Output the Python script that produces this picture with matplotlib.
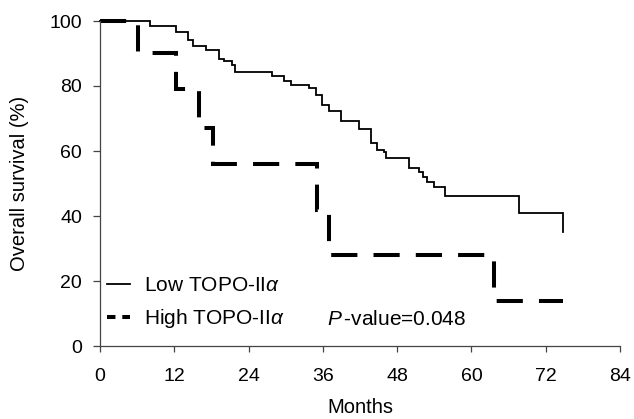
import matplotlib
matplotlib.use("Agg")
import matplotlib.pyplot as plt
from matplotlib.lines import Line2D

plt.rcParams['font.family'] = ['Liberation Sans', 'DejaVu Sans']
plt.rcParams['mathtext.fontset'] = 'custom'
plt.rcParams['mathtext.rm'] = 'Liberation Sans'
plt.rcParams['mathtext.it'] = 'Liberation Sans:italic'
plt.rcParams['mathtext.bf'] = 'Liberation Sans:bold'

# ---- data ----
months_low = [0, 8.1, 12.2, 14.2, 15.1, 17.1, 19.2, 20.1, 21.4, 21.8, 27.8, 29.8,
              30.8, 33.8, 34.9, 35.9, 37.0, 38.9, 41.9, 43.7, 44.8, 45.9, 46.2,
              49.9, 51.5, 52.1, 52.9, 54.0, 55.8, 67.7, 74.8]
surv_low = [100, 98.6, 96.5, 94.3, 92.2, 91.2, 88.4, 87.6, 86.6, 84.2, 83.2, 81.4,
            80.4, 79.4, 77.3, 74.2, 72.2, 69.1, 66.8, 62.4, 60.3, 59.8, 57.7,
            54.7, 53.6, 52.1, 50.5, 49.0, 46.1, 41.0, 35.0]

months_high = [0, 6.1, 12.2, 16.0, 18.2, 35.0, 37.0, 63.6, 74.8]
surv_high = [100, 90.2, 79.1, 67.0, 56.0, 41.8, 28.0, 13.9, 13.9]

label_low = r'Low TOPO-II$\alpha$'
label_high = r'High TOPO-II$\alpha$'
pvalue_text = r'$P\,$-value=0.048'
x_ticks = [0, 12, 24, 36, 48, 60, 72, 84]
y_ticks = [0, 20, 40, 60, 80, 100]
x_label = 'Months'
y_label = 'Overall survival (%)'

fig = plt.figure(figsize=(6.34, 4.19), dpi=100)
ax = fig.add_axes([100/634, 1 - 346/419, 520/634, 325/419])

ax.step(months_low, surv_low, where='post', color='black', lw=1.3,
        clip_on=False, solid_joinstyle='miter')
lh, = ax.step(months_high, surv_high, where='post', color='black', lw=2.9,
              clip_on=False, dash_capstyle='butt', dash_joinstyle='miter')
lh.set_dashes((6.5, 4.0))

ax.set_xlim(0, 84)
ax.set_ylim(0, 100)
ax.set_xticks(x_ticks)
ax.set_yticks(y_ticks)
for s in ['top', 'right']:
    ax.spines[s].set_visible(False)
for s in ['left', 'bottom']:
    ax.spines[s].set_color('#444444')
    ax.spines[s].set_linewidth(0.9)
ax.tick_params(axis='x', direction='out', length=4.5, width=0.9, color='#444444',
               labelsize=14, pad=11)
ax.tick_params(axis='y', direction='out', length=5, width=0.9, color='#444444',
               labelsize=14, pad=8)

ax.set_xlabel(x_label, fontsize=14.5)
ax.set_ylabel(y_label, fontsize=14.5)
ax.xaxis.set_label_coords(0.5, (346 - 398) / 325)
ax.yaxis.set_label_coords((29 - 100) / 520, 0.5)

h_low = Line2D([], [], color='black', lw=1.3)
h_high = Line2D([], [], color='black', lw=2.9, dash_capstyle='butt')
h_high.set_dashes((2.1, 1.7))
ax.legend([h_low, h_high], [label_low, label_high], loc='center left',
          bbox_to_anchor=(0.0129, 0.132), frameon=False, fontsize=15,
          handlelength=1.12, handletextpad=0.65, labelspacing=0.6,
          borderpad=0, borderaxespad=0)

ax.text(36.6, 8.3, pvalue_text, fontsize=15, ha='left', va='center')

fig.savefig('out.png', dpi=100)
